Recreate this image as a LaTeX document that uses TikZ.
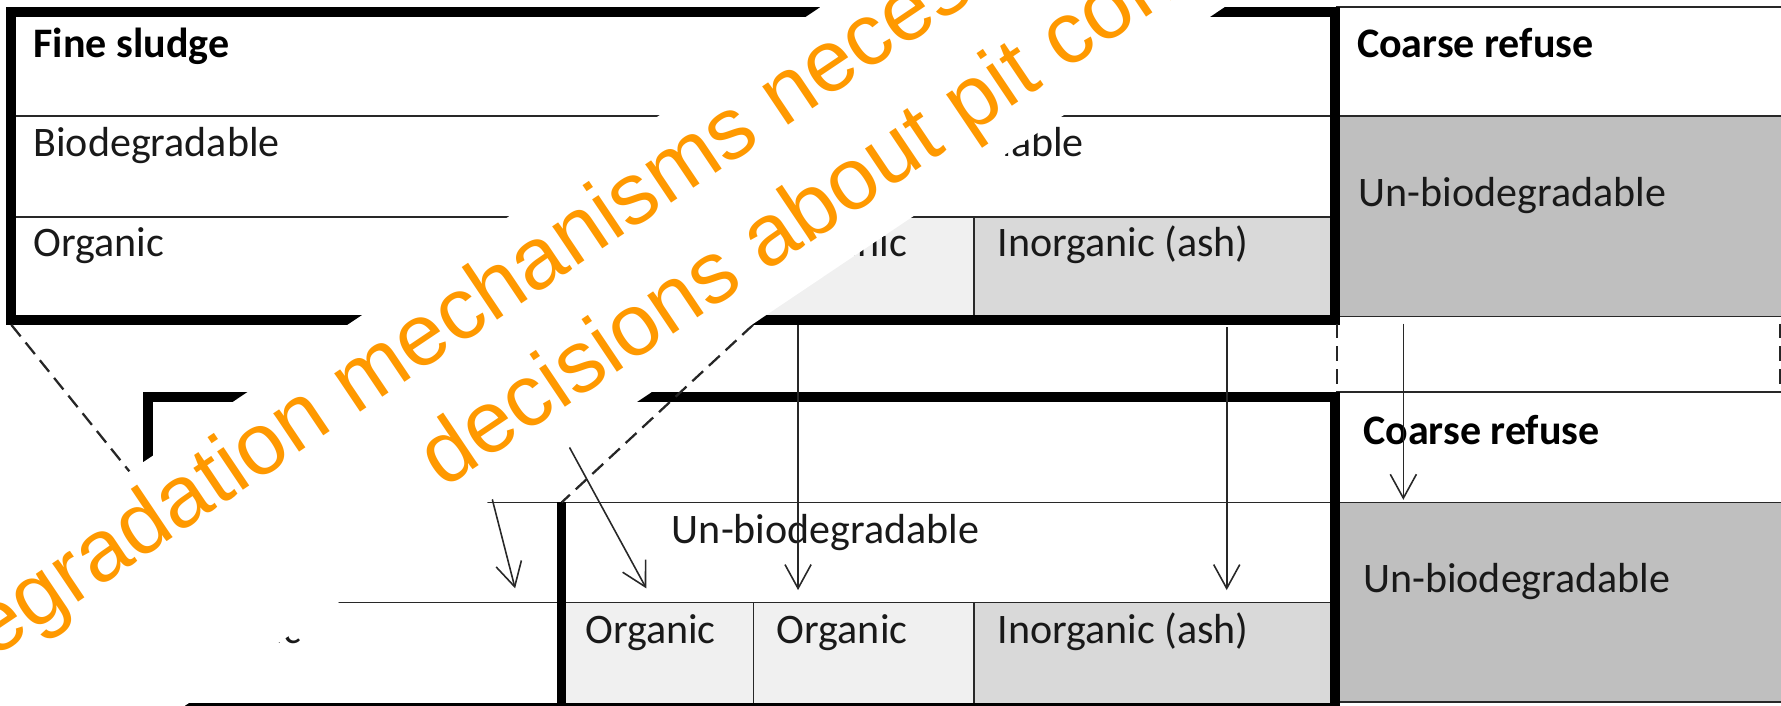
\documentclass[tikz,border=0pt]{standalone}
\usepackage{fontspec}
\setmainfont{Carlito}
\newfontfamily\wmfont{Liberation Sans}
\usetikzlibrary{arrows.meta}
\definecolor{wmorange}{RGB}{255,153,0}
\definecolor{lightcell}{RGB}{240,240,240}
\definecolor{midcell}{RGB}{217,217,217}
\definecolor{darkcell}{RGB}{191,191,191}
\definecolor{rulegray}{RGB}{40,40,40}
\begin{document}
\begin{tikzpicture}[x=1pt,y=-1pt,
  thickbox/.style={draw=black,line width=9pt},
  thinrule/.style={draw=rulegray,line width=1.4pt},
  lbl/.style={anchor=base west,inner sep=0pt,text=black!90,font=\fontsize{37}{44}\selectfont},
  blbl/.style={anchor=base west,inner sep=0pt,text=black,font=\fontsize{37}{44}\selectfont\bfseries},
  flow/.style={draw=rulegray,line width=1.4pt,-{Straight Barb[length=21pt,width=23pt]}},
  link/.style={draw=black!85,line width=2pt,dash pattern=on 13pt off 7pt},
  wm/.style={anchor=base west,inner sep=0pt,rotate=33.9,text=wmorange,font=\wmfont\fontsize{77}{88}\selectfont}]
\useasboundingbox (0,0) rectangle (1568,621);
\clip (0,0) rectangle (1568,621);
% ---------- fills ----------
\fill[lightcell] (663,190.8) rectangle (857.5,281.5);
\fill[midcell] (857.5,190.8) rectangle (1176,281.5);
\fill[darkcell] (1176,102) rectangle (1568,278.8);
\fill[lightcell] (494.5,530.6) rectangle (857.5,623);
\fill[midcell] (857.5,530.6) rectangle (1176,623);
\fill[darkcell] (1176,442.3) rectangle (1568,618);
% ---------- top table ----------
\draw[thinrule] (10,102) -- (1176,102);
\draw[thinrule] (10,190.8) -- (1176,190.8);
\draw[thinrule] (663,102) -- (663,281.5);
\draw[thinrule] (857.5,190.8) -- (857.5,281.5);
\draw[thinrule] (1176,6) -- (1568,6);
\draw[thinrule] (1176,102) -- (1568,102);
\draw[thinrule] (1176,278.8) -- (1568,278.8);
\draw[thickbox] (10,10.5) rectangle (1175.5,281.5);
% ---------- bottom table ----------
\draw[thinrule] (130,442.3) -- (1176,442.3);
\draw[thinrule] (130,530.6) -- (1176,530.6);
\draw[thinrule] (663.3,530.6) -- (663.3,623);
\draw[thinrule] (857.5,530.6) -- (857.5,623);
\draw[thinrule] (1176,345) -- (1568,345);
\draw[thinrule] (1176,442.3) -- (1568,442.3);
\draw[thinrule] (1176,618) -- (1568,618);
\draw[thickbox] (130,349.5) rectangle (1175.5,623);
\draw[black,line width=8pt] (494.5,442.3) -- (494.5,623);
% ---------- texts ----------
\node[blbl] (fs1) at (29.3,51) {Fine sludge};
\node[lbl] (bd1) at (29.3,138) {Biodegradable};
\node[lbl] (ub1) at (683.5,138) {Un-biodegradable};
\node[lbl] (or1) at (29.3,226) {Organic};
\node[lbl] (or2) at (683.5,226) {Organic};
\node[lbl] (in1) at (878,226) {Inorganic (ash)};
\node[blbl] (cr1) at (1194.5,51) {Coarse refuse};
\node[lbl] (ub2) at (1196,182) {Un-biodegradable};
\node[lbl] (or3) at (150,566.4) {Organic};
\node[lbl] (ub3) at (591.4,478.4) {Un-biodegradable};
\node[lbl] (or4) at (515,566.4) {Organic};
\node[lbl] (or5) at (683.8,566.4) {Organic};
\node[lbl] (in2) at (878,566.4) {Inorganic (ash)};
\node[blbl] (cr2) at (1200,391) {Coarse refuse};
\node[lbl] (ub4) at (1200,522) {Un-biodegradable};
% ---------- connector end points ----------
\coordinate (tl) at (10,286);
\coordinate (bl) at (130,435);
\coordinate (tm) at (663,286);
\coordinate (bm) at (494.5,442.3);
\coordinate (cA1) at (1177,285);
\coordinate (cA2) at (1177,345);
\coordinate (cB1) at (1567,285);
\coordinate (cB2) at (1567,345);
\coordinate (a1s) at (394,286);
\coordinate (a1e) at (453.5,518);
\coordinate (a2s) at (442.6,286);
\coordinate (a2e) at (569,518);
\coordinate (a3s) at (702.6,286);
\coordinate (a3e) at (702.6,519.5);
\coordinate (a4s) at (1080,288);
\coordinate (a4e) at (1080,519.5);
\coordinate (a5s) at (1235.5,285);
\coordinate (a5e) at (1235.5,440);
% ---------- dashed links ----------
\draw[link] (tl) -- (bl);
\draw[link] (tm) -- (bm);
\draw[link] (cA1) -- (cA2);
\draw[link] (cB1) -- (cB2);
% ---------- arrows ----------
\draw[flow] (a1s) -- (a1e);
\draw[flow] (a2s) -- (a2e);
\draw[flow] (a3s) -- (a3e);
\draw[flow] (a4s) -- (a4e);
\draw[flow] (a5s) -- (a5e);
% ---------- overlay band ----------
\fill[white] (-529,847.1) -- (1961,-826.1) -- (2316,-825.6) -- (-174,847.6) -- cycle;
\node[wm] (w1) at (-6.9,580.6) {egradation mechanisms necess};
\node[wm] (w2) at (389.9,430.7) {decisions about pit cont};
\end{tikzpicture}
\end{document}
